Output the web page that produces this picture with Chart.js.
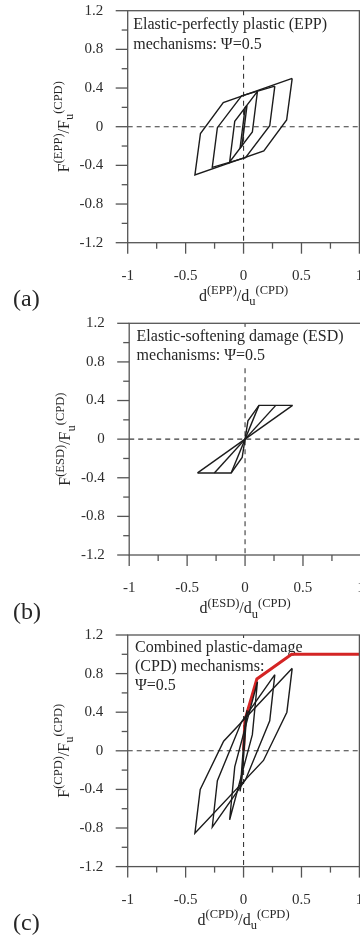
<!DOCTYPE html>
<html>
<head>
<meta charset="utf-8">
<script src="https://cdn.jsdelivr.net/npm/chart.js@4.4.1/dist/chart.umd.min.js"></script>
<style>
  html, body { margin: 0; padding: 0; background: #fff; }
  #wrap { position: relative; width: 360px; height: 936px; overflow: hidden; }
  #wrap canvas { position: absolute; left: 0; }
</style>
</head>
<body>
<div id="wrap">
  <canvas id="epp" width="362" height="312" style="top:0"></canvas>
  <canvas id="esd" width="362" height="312" style="top:312px"></canvas>
  <canvas id="cpd" width="362" height="312" style="top:624px"></canvas>
</div>
<script>
const xTickLabels = ['-1', '-0.5', '0', '0.5', '1'];
const yTickLabels = ['1.2', '0.8', '0.4', '0', '-0.4', '-0.8', '-1.2'];

// elastic-perfectly plastic cycles, small to large amplitude
const eppX = [
  [0.03, -0.014, -0.03, 0.014, 0.03],
  [0.12, 0.076, -0.12, -0.076, 0.12],
  [0.27, 0.226, 0.017, -0.27, -0.226, -0.017, 0.27],
  [0.42, 0.372, 0.175, -0.42, -0.372, -0.175, 0.42]
];
const eppY = [
  [0.22, -0.2, -0.22, 0.2, 0.22],
  [0.365, -0.055, -0.365, 0.055, 0.365],
  [0.42, 0.01, -0.32, -0.42, -0.01, 0.32, 0.42],
  [0.5, 0.07, -0.25, -0.5, -0.07, 0.25, 0.5]
];

// elastic-softening damage: envelope plus secant unloading lines
const esdX = [
  [-0.41, -0.12, -0.025, 0, 0.025, 0.12, 0.41],
  [-0.12, 0.12],
  [-0.265, 0.265],
  [-0.41, 0.41]
];
const esdY = [
  [-0.35, -0.35, -0.19, 0, 0.19, 0.35, 0.35],
  [-0.35, 0.35],
  [-0.35, 0.35],
  [-0.35, 0.35]
];

// combined plastic-damage cycles
const cpdX = [
  [0.03, -0.014, -0.03, 0.014, 0.03],
  [0.12, 0.076, -0.12, -0.076, 0.12],
  [0.27, 0.226, 0.017, -0.27, -0.226, -0.017, 0.27],
  [0.42, 0.374, 0.172, -0.42, -0.374, -0.172, 0.42]
];
const cpdY = [
  [0.42, -0.29, -0.42, 0.29, 0.42],
  [0.715, 0.167, -0.715, -0.167, 0.715],
  [0.79, 0.31, -0.3, -0.79, -0.31, 0.3, 0.79],
  [0.855, 0.4, -0.1, -0.855, -0.4, 0.1, 0.855]
];

// monotonic backbone (red)
const backboneX = [0, 0.012, 0.115, 0.415, 1];
const backboneY = [0, 0.32, 0.745, 1, 1];

const serif = "'Liberation Serif', 'Times New Roman', serif";
const CW = 362, CH = 312;
const ink = '#1c1c1c';

function loops(xs, ys, color, width) {
  return xs.map((xRow, i) => ({
    data: xRow.map((x, j) => ({ x, y: ys[i][j] })),
    showLine: true,
    borderColor: color,
    borderWidth: width,
    pointRadius: 0,
    fill: false
  }));
}

function line(ctx, x1, y1, x2, y2) {
  ctx.beginPath(); ctx.moveTo(x1, y1); ctx.lineTo(x2, y2); ctx.stroke();
}

// text with superscript (1) / subscript (-1) pieces, centred on x
function rich(ctx, parts, x, y) {
  const fontOf = s => (s ? 12.5 : 16) + 'px ' + serif;
  let w = 0;
  parts.forEach(([t, s]) => { ctx.font = fontOf(s); w += ctx.measureText(t).width; });
  let cx = x - w / 2;
  ctx.textAlign = 'left';
  ctx.textBaseline = 'alphabetic';
  parts.forEach(([t, s]) => {
    ctx.font = fontOf(s);
    ctx.fillText(t, cx, y + (s === 1 ? -6.5 : s === -1 ? 4.5 : 0));
    cx += ctx.measureText(t).width;
  });
}

function chrome(p) {
  return {
    id: 'chrome',
    beforeDatasetsDraw(chart) {
      const { ctx, chartArea: a, scales: { x, y } } = chart;
      const x0 = x.getPixelForValue(0), y0 = y.getPixelForValue(0);
      ctx.save();
      ctx.strokeStyle = '#3a3a3a';
      ctx.lineWidth = 1.1;
      ctx.setLineDash([5, 4]);
      line(ctx, a.left, y0, a.right, y0);
      line(ctx, x0, a.top, x0, a.bottom);
      ctx.setLineDash([]);

      ctx.font = '16px ' + serif;
      ctx.textAlign = 'left';
      ctx.textBaseline = 'alphabetic';
      p.notes.forEach((t, i) => {
        const bx = a.left + p.noteLeft, by = a.top + p.noteBase[i];
        const w = ctx.measureText(t).width;
        ctx.fillStyle = '#fff';
        ctx.fillRect(bx - 1, by - 14, w + 2, 20);
      });
      ctx.fillStyle = '#262626';
      p.notes.forEach((t, i) => {
        ctx.fillText(t, a.left + p.noteLeft, a.top + p.noteBase[i]);
      });
      ctx.restore();
    },
    afterDatasetsDraw(chart) {
      const { ctx, chartArea: a, scales: { x, y } } = chart;
      ctx.save();
      ctx.strokeStyle = '#555';
      ctx.lineWidth = 1.3;
      ctx.strokeRect(a.left, a.top, a.right - a.left, a.bottom - a.top);
      x.ticks.forEach(t => {
        const px = x.getPixelForValue(t.value);
        line(ctx, px, a.bottom, px, a.bottom + (t.label ? 11 : 6));
      });
      y.ticks.forEach(t => {
        const py = y.getPixelForValue(t.value);
        line(ctx, a.left, py, a.left - (t.label ? 12 : 6), py);
      });

      ctx.fillStyle = '#262626';
      rich(ctx, [['d', 0], ['(' + p.tag + ')', 1], ['/d', 0], ['u', -1], ['(CPD)', 1]],
        (a.left + a.right) / 2, a.bottom + 58);
      ctx.save();
      ctx.translate(a.left - 59, (a.top + a.bottom) / 2);
      ctx.rotate(-Math.PI / 2);
      rich(ctx, [['F', 0], ['(' + p.tag + ')', 1], ['/F', 0], ['u', -1], ['(CPD)', 1]], 0, 0);
      ctx.restore();

      ctx.font = '24px ' + serif;
      ctx.textAlign = 'left';
      ctx.fillText(p.panel, 13, a.bottom + 63.5);
      ctx.restore();
    }
  };
}

function panel(id, area, datasets, p) {
  const fmtX = v => String(Math.round(v * 100) / 100);
  const fmtY = v => String(Math.round(v * 10) / 10);
  return new Chart(document.getElementById(id), {
    type: 'scatter',
    data: { datasets },
    options: {
      responsive: false,
      animation: false,
      devicePixelRatio: 1,
      layout: { padding: { left: 0, top: area.t, right: CW - area.r, bottom: 0 } },
      plugins: { legend: { display: false }, tooltip: { enabled: false } },
      elements: { line: { tension: 0 } },
      scales: {
        x: {
          type: 'linear', min: -1, max: 1,
          grid: { display: false, drawTicks: false },
          border: { display: false },
          ticks: {
            stepSize: 0.25, autoSkip: false, maxRotation: 0, padding: 24,
            color: '#2e2e2e', font: { family: serif, size: 15 },
            callback: v => xTickLabels.includes(fmtX(v)) ? fmtX(v) : ''
          },
          afterFit: s => { s.height = CH - area.b; s.paddingLeft = 0; s.paddingRight = 0; }
        },
        y: {
          type: 'linear', min: -1.2, max: 1.2,
          grid: { display: false, drawTicks: false },
          border: { display: false },
          ticks: {
            stepSize: 0.2, autoSkip: false, padding: 24.5,
            color: '#2e2e2e', font: { family: serif, size: 15 },
            callback: v => yTickLabels.includes(fmtY(v)) ? fmtY(v) : ''
          },
          afterFit: s => { s.width = area.l; s.paddingTop = 0; s.paddingBottom = 0; }
        }
      }
    },
    plugins: [chrome(p)]
  });
}

panel('epp', { l: 127.7, r: 359.4, t: 10.7, b: 242.7 },
  loops(eppX, eppY, ink, 1.4),
  { tag: 'EPP', panel: '(a)', noteLeft: 5.6, noteBase: [18.6, 38.6],
    notes: ['Elastic-perfectly plastic (EPP)', 'mechanisms: Ψ=0.5'] });

panel('esd', { l: 129.2, r: 360.9, t: 11.3, b: 243 },
  loops(esdX, esdY, ink, 1.4),
  { tag: 'ESD', panel: '(b)', noteLeft: 7.4, noteBase: [17.6, 36.6],
    notes: ['Elastic-softening damage (ESD)', 'mechanisms: Ψ=0.5'] });

panel('cpd', { l: 127.7, r: 359.4, t: 11, b: 242.6 },
  loops(cpdX, cpdY, ink, 1.4).concat(loops([backboneX], [backboneY], '#d42424', 3)),
  { tag: 'CPD', panel: '(c)', noteLeft: 7.3, noteBase: [17, 36, 55],
    notes: ['Combined plastic-damage', '(CPD) mechanisms:', 'Ψ=0.5'] });
</script>
</body>
</html>
